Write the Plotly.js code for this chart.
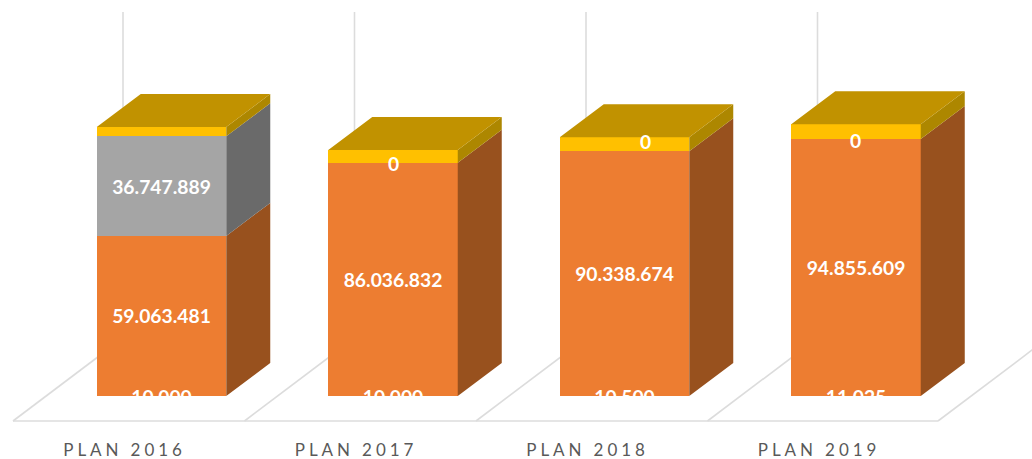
<!DOCTYPE html>
<html>
<head>
<meta charset="utf-8">
<script src="https://cdn.plot.ly/plotly-3.0.1.min.js"></script>
<style>
html,body{margin:0;padding:0;background:#fff;overflow:hidden}
#chart{width:1032px;height:459px}
.xtick text{letter-spacing:3.9px}
</style>
</head>
<body>
<div id="chart"></div>
<script>
// ---- data ----
var categories = ['PLAN 2016','PLAN 2017','PLAN 2018','PLAN 2019'];
var baseValues   = [10000, 10000, 10500, 11025];
var orangeValues = [59063481, 86036832, 90338674, 94855609];
var grayValues   = [36747889, 0, 0, 0];
var yellowValues = [3440000, 4730000, 5110000, 5390000];

// ---- projection and layout constants ----
var W = 1032, H = 459, plotBottom = 438;
var pitchPx = 231.5, tick0Px = 124.5, zeroPx = 396, pxPerUnit = 2.71e-6;
var barShift = 37 / pitchPx, barWidth = 129.5 / pitchPx;
var depthX = 44 / pitchPx, depthY = 33 / pxPerUnit;
var labelSize = 19.3, baseLabelDropPx = 3;
var xOf = function (px) { return (px - tick0Px) / pitchPx; };
var yOf = function (py) { return (zeroPx - py) / pxPerUnit; };

var positions = categories.map(function (_, i) { return i + barShift; });
var fmt = function (v) { return String(v).replace(/\B(?=(\d{3})+(?!\d))/g, '.'); };

// cumulative stack boundaries
var stackTop = function (arrs, i) { return arrs.reduce(function (s, a) { return s + a[i]; }, 0); };

// front faces
function bar(name, vals, color, labelled) {
  var t = {
    type: 'bar', name: name, x: positions, y: vals, width: barWidth,
    marker: {color: color, line: {width: 0}}, hoverinfo: 'skip', showlegend: false
  };
  if (labelled) {
    t.text = vals.map(function (v) { return v > 0 ? fmt(v) : ''; });
    t.textposition = 'inside';
    t.insidetextanchor = 'middle';
    t.textangle = 0;
    t.constraintext = 'none';
    t.insidetextfont = {family: 'Lato', size: labelSize, color: '#ffffff', weight: 700};
  }
  return t;
}

// side faces of one series, and the top face of the whole stack
function sideFace(lowerArrs, vals, color) {
  var xs = [], ys = [];
  vals.forEach(function (v, i) {
    if (v <= 0) return;
    var y0 = stackTop(lowerArrs, i), y1 = y0 + v;
    var xr = positions[i] + barWidth / 2;
    xs.push(xr, xr + depthX, xr + depthX, xr, xr, null);
    ys.push(y0, y0 + depthY, y1 + depthY, y1, y0, null);
  });
  return {type: 'scatter', mode: 'lines', x: xs, y: ys, fill: 'toself', fillcolor: color,
          line: {width: 0, color: color}, hoverinfo: 'skip', showlegend: false};
}
function topFace(allArrs, color) {
  var xs = [], ys = [];
  positions.forEach(function (p, i) {
    var y = stackTop(allArrs, i), l = p - barWidth / 2, r = p + barWidth / 2;
    xs.push(l, r, r + depthX, l + depthX, l, null);
    ys.push(y, y, y + depthY, y + depthY, y, null);
  });
  return {type: 'scatter', mode: 'lines', x: xs, y: ys, fill: 'toself', fillcolor: color,
          line: {width: 0, color: color}, hoverinfo: 'skip', showlegend: false};
}

var traces = [
  bar('Base', baseValues, '#ED7D31', false),
  bar('Orange', orangeValues, '#ED7D31', true),
  bar('Gray', grayValues, '#A5A5A5', true),
  bar('Yellow', yellowValues, '#FFC000', false),
  sideFace([baseValues], orangeValues, '#98511E'),
  sideFace([baseValues, orangeValues], grayValues, '#6A6A6A'),
  sideFace([baseValues, orangeValues, grayValues], yellowValues, '#AD8700'),
  topFace([baseValues, orangeValues, grayValues, yellowValues], '#C19200'),
  {
    type: 'scatter', mode: 'text', x: positions,
    y: baseValues.map(function (v) { return v / 2 - baseLabelDropPx / pxPerUnit; }),
    text: baseValues.map(fmt), textposition: 'middle center', cliponaxis: false,
    textfont: {family: 'Lato', size: labelSize, color: '#ffffff', weight: 700},
    hoverinfo: 'skip', showlegend: false
  }
];

// "0" labels of the empty series (the original places them by hand)
var zeroNudgeX = [0, 0, 21, -1];
var zeroNudgeY = [0, -1, 10, -2];
var annotations = [];
grayValues.forEach(function (v, i) {
  if (v !== 0) return;
  annotations.push({
    x: positions[i], y: stackTop([baseValues, orangeValues], i), xref: 'x', yref: 'y',
    text: fmt(v), showarrow: false, xanchor: 'center', yanchor: 'middle',
    xshift: zeroNudgeX[i], yshift: zeroNudgeY[i],
    font: {family: 'Lato', size: labelSize, color: '#ffffff', weight: 700}
  });
});

// floor and wall lines, behind the columns
var gridColor = '#DCDCDC', shapes = [];
var floorFrontPx = 421, floorBackPx = 338, wallTopPx = 12, floorStartPx = 13, floorDepthPx = 110;
function seg(x0, y0, x1, y1) {
  shapes.push({type: 'line', layer: 'below', xref: 'x', yref: 'y',
    x0: xOf(x0), y0: yOf(y0), x1: xOf(x1), y1: yOf(y1),
    line: {color: gridColor, width: 1.6}});
}
seg(floorStartPx, floorFrontPx, floorStartPx + 4 * pitchPx - 1, floorFrontPx);
for (var g = 0; g < 5; g++) {
  var fx = floorStartPx + g * pitchPx - (g === 4 ? 1 : 0);
  seg(fx, floorFrontPx, fx + floorDepthPx, floorBackPx);
  if (g < 4) seg(fx + floorDepthPx, floorBackPx, fx + floorDepthPx, wallTopPx);
}

var layout = {
  width: W, height: H,
  margin: {l: 0, r: 0, t: 0, b: H - plotBottom, pad: 0},
  paper_bgcolor: '#ffffff', plot_bgcolor: '#ffffff',
  barmode: 'stack', showlegend: false,
  xaxis: {
    type: 'linear', range: [xOf(0), xOf(W)],
    tickmode: 'array', tickvals: categories.map(function (_, i) { return i; }), ticktext: categories,
    showgrid: false, zeroline: false, showline: false, ticks: '',
    tickfont: {family: 'Lato', size: 17, color: '#595959'}
  },
  yaxis: {
    type: 'linear', range: [yOf(plotBottom), yOf(0)],
    showgrid: false, zeroline: false, showline: false, showticklabels: false, ticks: ''
  },
  shapes: shapes, annotations: annotations
};

Plotly.newPlot('chart', traces, layout, {displayModeBar: false, staticPlot: true});
</script>
</body>
</html>
